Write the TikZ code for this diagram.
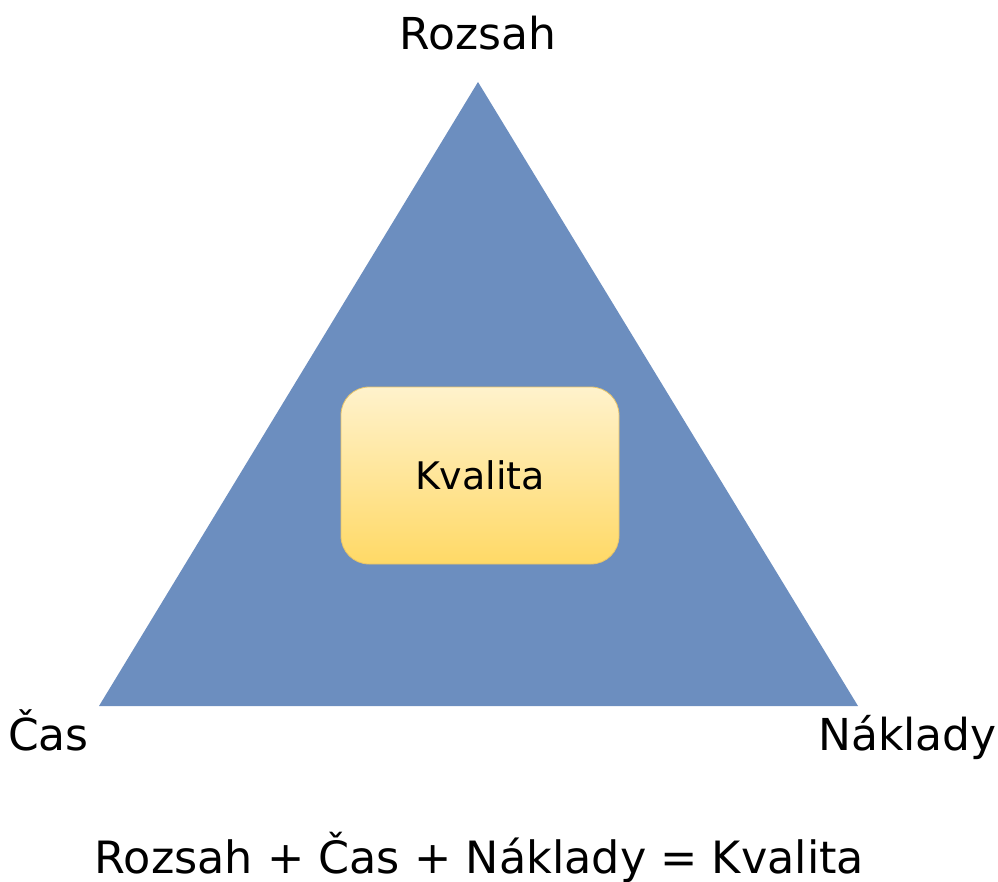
\documentclass[tikz,border=0pt]{standalone}
\usepackage{fontspec}
\setmainfont{DejaVu Sans}
\begin{document}
\begin{tikzpicture}[x=1pt,y=-1pt,
  label text/.style={font=\fontsize{44}{52}\selectfont, inner sep=0pt},
  qualitybox/.style={rounded corners=28pt, draw=boxedge, line width=0.8pt,
    top color=boxtop, bottom color=boxbottom,
    minimum width=278pt, minimum height=177pt,
    font=\fontsize{38}{45}\selectfont}]
\definecolor{triblue}{HTML}{6C8EBF}
\definecolor{boxtop}{HTML}{FFF2CC}
\definecolor{boxbottom}{HTML}{FFD966}
\definecolor{boxedge}{HTML}{E6C36A}
\useasboundingbox (0,0) rectangle (998,882);
% the triangle
\coordinate (apex) at (478,82);
\coordinate (left) at (99,706);
\coordinate (right) at (858,706);
\fill[triblue] (apex) -- (left) -- (right) -- cycle;
% centre box
\node[qualitybox] (quality) at (480,475.5) {Kvalita};
% corner labels
\node[label text, anchor=base] (scope) at (478,50) {Rozsah};
\node[label text, anchor=base west] (time) at (8,750) {Čas};
\node[label text, anchor=base east] (cost) at (997,750) {Náklady};
% equation
\node[label text, font=\fontsize{44.5}{52}\selectfont, anchor=base] (equation) at (479.5,873) {Rozsah + Čas + Náklady = Kvalita};
\end{tikzpicture}
\end{document}
